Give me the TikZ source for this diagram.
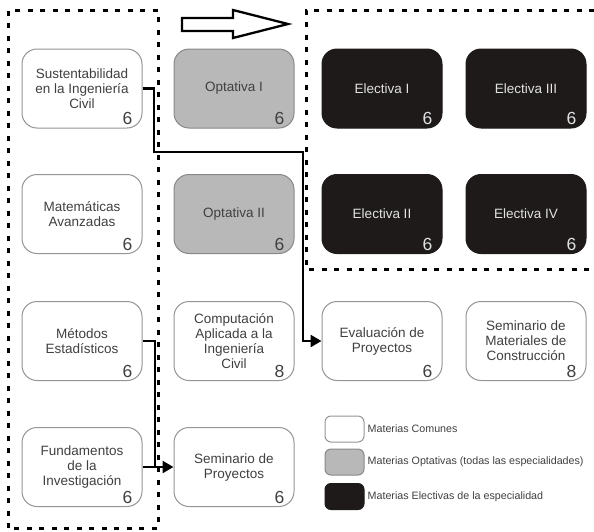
\documentclass[tikz,border=0pt]{standalone}
\usepackage{fontspec}
\setmainfont{Liberation Sans}
\usetikzlibrary{arrows.meta}
\definecolor{txt}{HTML}{404040}
\definecolor{bordl}{HTML}{959595}
\definecolor{grayfill}{HTML}{B8B8B8}
\definecolor{grayb}{HTML}{888888}
\definecolor{darkfill}{HTML}{1E1A1A}
\definecolor{darktxt}{HTML}{E2E2E2}
\tikzset{
  course/.style={rounded corners=15pt, minimum width=120pt, minimum height=79pt,
    align=center, font=\fontsize{13.5}{15}\selectfont, text=txt, inner sep=2pt},
  common/.style={course, draw=bordl, line width=1pt, fill=white},
  optional/.style={course, draw=grayb, line width=1pt, fill=grayfill},
  elective/.style={course, draw=darkfill, line width=1pt, fill=darkfill, text=darktxt},
  num/.style={font=\fontsize{17.5}{17.5}\selectfont, text=txt, anchor=base east, inner sep=0pt},
  numd/.style={num, text=darktxt},
  conn/.style={line width=2.5pt, black},
  arr/.style={conn, -{Triangle[length=11pt,width=12pt]}},
  frame/.style={line width=3pt, dash pattern=on 5pt off 7.5pt, black},
  legbox/.style={rounded corners=6pt, minimum width=39pt, minimum height=26pt, line width=1pt},
  legtxt/.style={font=\fontsize{10.7}{12}\selectfont, text=txt, anchor=west, inner sep=0pt}
}
\begin{document}
\begin{tikzpicture}[x=1pt,y=-1pt]
\useasboundingbox[fill=white] (0,0) rectangle (594,531);
% dashed frames
\draw[frame] (8,528) -- (8,10) -- (158,10) -- (158,528) -- cycle;
\draw[frame] (594,10) -- (306,10) -- (306,269) -- (594,269);
% hollow arrow
\draw[line width=2.3pt, fill=white] (182,18) -- (233,18) -- (233,10) -- (288,24) -- (233,38) -- (233,31) -- (182,31) -- cycle;
% column 1
\node[common] (s1) at (82,88.5) {Sustentabilidad\\en la Ingeniería\\Civil};
\node[common] (ma) at (82,214) {Matemáticas\\Avanzadas};
\node[common] (me) at (82,341) {Métodos\\Estadísticos};
\node[common] (fu) at (82,467) {Fundamentos\\de la\\Investigación};
% column 2
\node[optional] (o1) at (234,88.5) {Optativa I};
\node[optional] (o2) at (234,214) {Optativa II};
\node[common] (co) at (234,341) {Computación\\Aplicada a la\\Ingeniería\\Civil};
\node[common] (sp) at (234,467) {Seminario de\\Proyectos};
% column 3, 4
\node[elective] (e1) at (382,88.5) {Electiva I};
\node[elective] (e2) at (382,214) {Electiva II};
\node[common] (ev) at (382,341) {Evaluación de\\Proyectos};
\node[elective] (e3) at (526,88.5) {Electiva III};
\node[elective] (e4) at (526,214) {Electiva IV};
\node[common] (sm) at (526,341) {Seminario de\\Materiales de\\Construcción};
% credits
\foreach \n/\v in {s1/6,ma/6,me/6,fu/6,co/8,sp/6,ev/6,sm/8,o1/6,o2/6}
  \node[num] at ([xshift=-10pt,yshift=4pt]\n.south east) {\v};
\foreach \n/\v in {e1/6,e2/6,e3/6,e4/6}
  \node[numd] at ([xshift=-10pt,yshift=4pt]\n.south east) {\v};
% connectors
\coordinate (j1) at (154,152);
\coordinate (j2) at (303,152);
\coordinate (j3) at (155,467);
\draw[arr] (s1.east) -| (j1) -- (j2) |- (ev.west);
\draw[conn] (me.east) -| (j3);
\draw[arr] (fu.east) -- (sp.west);
% legend
\node[legbox, draw=bordl, fill=white] (l1) at (344.5,429) {};
\node[legbox, draw=grayb, fill=grayfill] (l2) at (344.5,462) {};
\node[legbox, draw=darkfill, fill=darkfill] (l3) at (344.5,496.5) {};
\node[legtxt] (t1) at ([xshift=3pt]l1.east) {Materias Comunes};
\node[legtxt] (t2) at ([xshift=3pt]l2.east) {Materias Optativas (todas las especialidades)};
\node[legtxt] (t3) at ([xshift=3pt]l3.east) {Materias Electivas de la especialidad};
\end{tikzpicture}
\end{document}
